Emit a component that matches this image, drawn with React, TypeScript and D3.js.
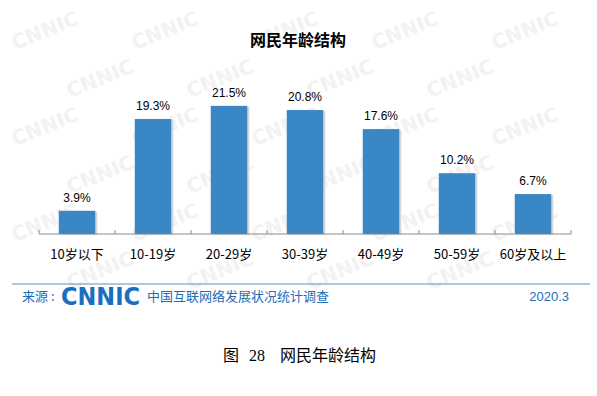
import React, { useEffect, useRef } from "react";
import * as d3 from "d3";

const categories = ["10岁以下", "10-19岁", "20-29岁", "30-39岁", "40-49岁", "50-59岁", "60岁及以上"];
const values = [3.9, 19.3, 21.5, 20.8, 17.6, 10.2, 6.7];
const valueLabels = ["3.9%", "19.3%", "21.5%", "20.8%", "17.6%", "10.2%", "6.7%"];

const App = () => {
  const svgRef = useRef<SVGSVGElement>(null);

  useEffect(() => {
    const w = 597;
    const h = 396;
    const svg = d3.select(svgRef.current).attr("width", w).attr("height", h);
    svg.selectAll("*").remove();

    svg.append("rect").attr("width", w).attr("height", h).attr("fill", "#fff");

    // faint CNNIC watermark, kept inside the picture
    const wm = svg.append("g");
    for (let row = 0; row < 6; row++) {
      for (let col = 0; col < 5; col++) {
        const wx = 15 + col * 120 + (row % 2) * 55;
        const wy = 50 + row * 48;
        if (wx > 510 || wy > 300) continue;
        wm.append("text")
          .attr("transform", `translate(${wx},${wy}) rotate(-22)`)
          .attr("font-family", "DejaVu Sans, sans-serif")
          .attr("font-weight", "bold")
          .attr("font-size", 20)
          .attr("fill", "#f2f2f2")
          .text("CNNIC");
      }
    }

    const x = d3.scaleBand<string>()
      .domain(categories)
      .range([39, 571])
      .paddingInner(0.52)
      .paddingOuter(0.26);

    const y = d3.scaleLinear().domain([0, 25]).range([234, 85]);

    // title
    svg.append("text")
      .attr("x", 298)
      .attr("y", 46)
      .attr("text-anchor", "middle")
      .attr("font-family", "Noto Sans CJK SC, sans-serif")
      .attr("font-weight", "bold")
      .attr("font-size", 16)
      .attr("fill", "#000")
      .text("网民年龄结构");

    const bars = svg.selectAll("g.bar")
      .data(values)
      .join("g")
      .classed("bar", true);

    // light shadow behind bars
    bars.append("rect")
      .attr("x", (d, i) => (x(categories[i]) as number) + 2)
      .attr("y", d => y(d) + 1)
      .attr("width", x.bandwidth())
      .attr("height", d => y(0) - y(d))
      .attr("fill", "#d6d6d6");

    bars.append("rect")
      .attr("x", (d, i) => x(categories[i]) as number)
      .attr("y", d => y(d))
      .attr("width", x.bandwidth())
      .attr("height", d => y(0) - y(d))
      .attr("fill", "#3a87c6");

    bars.append("text")
      .attr("x", (d, i) => (x(categories[i]) as number) + x.bandwidth() / 2)
      .attr("y", d => y(d) - 9)
      .attr("text-anchor", "middle")
      .attr("font-family", "Liberation Sans, Arial, sans-serif")
      .attr("font-size", 12)
      .attr("fill", "#000")
      .text((d, i) => valueLabels[i]);

    // axis
    svg.append("line")
      .attr("x1", 39).attr("x2", 571)
      .attr("y1", 234).attr("y2", 234)
      .attr("stroke", "#8c8c8c");
    const step = x.step();
    d3.range(categories.length + 1).forEach(i => {
      const tx = 39 + i * step;
      svg.append("line")
        .attr("x1", tx).attr("x2", tx)
        .attr("y1", 230).attr("y2", 234)
        .attr("stroke", "#8c8c8c");
    });

    svg.selectAll("text.cat")
      .data(categories)
      .join("text")
      .classed("cat", true)
      .attr("x", d => (x(d) as number) + x.bandwidth() / 2)
      .attr("y", 259)
      .attr("text-anchor", "middle")
      .attr("font-family", "Noto Sans CJK SC, sans-serif")
      .attr("font-size", 13)
      .attr("fill", "#000")
      .text(d => d);

    // footer
    svg.append("line")
      .attr("x1", 12).attr("x2", 590)
      .attr("y1", 284).attr("y2", 284)
      .attr("stroke", "#5b8fc7")
      .attr("stroke-width", 1);

    svg.append("text")
      .attr("x", 22).attr("y", 301)
      .attr("font-family", "Noto Sans CJK SC, sans-serif")
      .attr("font-size", 13)
      .attr("fill", "#1f6db5")
      .text("来源 :");

    svg.append("text")
      .attr("x", 61).attr("y", 305)
      .attr("font-family", "DejaVu Sans, sans-serif")
      .attr("font-weight", "bold")
      .attr("font-size", 25)
      .attr("textLength", 79)
      .attr("lengthAdjust", "spacingAndGlyphs")
      .attr("fill", "#1a6fbf")
      .text("CNNIC");

    svg.append("text")
      .attr("x", 147).attr("y", 301)
      .attr("font-family", "Noto Sans CJK SC, sans-serif")
      .attr("font-size", 13)
      .attr("fill", "#1f6db5")
      .text("中国互联网络发展状况统计调查");

    svg.append("text")
      .attr("x", 569).attr("y", 301)
      .attr("text-anchor", "end")
      .attr("font-family", "Liberation Sans, Arial, sans-serif")
      .attr("font-size", 13)
      .attr("fill", "#1f6db5")
      .text("2020.3");

    // caption
    const cap = svg.append("text")
      .attr("y", 361)
      .attr("font-size", 16)
      .attr("fill", "#000");
    cap.append("tspan")
      .attr("x", 223)
      .attr("font-family", "Noto Sans CJK SC, serif")
      .text("图");
    cap.append("tspan")
      .attr("x", 249)
      .attr("font-family", "Liberation Serif, serif")
      .text("28");
    cap.append("tspan")
      .attr("x", 280)
      .attr("font-family", "Noto Sans CJK SC, serif")
      .text("网民年龄结构");
  }, []);

  return <svg ref={svgRef} style={{ position: "absolute", left: 0, top: 0, display: "block" }} />;
};

export default App;
